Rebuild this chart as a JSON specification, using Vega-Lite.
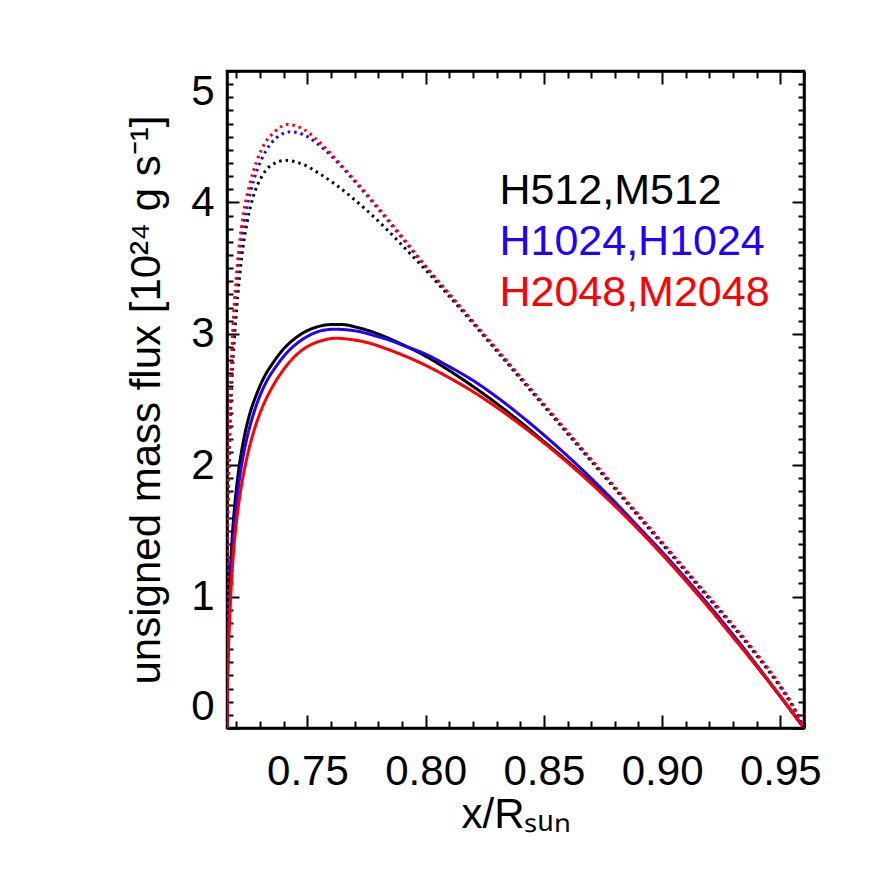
{
  "$schema": "https://vega.github.io/schema/vega-lite/v6.json",
  "width": 577,
  "height": 657,
  "autosize": {"type": "none"},
  "padding": {"left": 227, "top": 71, "right": 68, "bottom": 144},
  "background": "white",
  "config": {
    "view": {"stroke": "black", "strokeWidth": 2.5},
    "font": "Liberation Sans",
    "axis": {
      "grid": false,
      "domainColor": "black",
      "domainWidth": 2.5,
      "tickColor": "black",
      "tickWidth": 2,
      "labelFont": "Liberation Sans",
      "labelFontSize": 42,
      "labelColor": "black",
      "titleFont": "Liberation Sans",
      "titleFontSize": 42,
      "titleFontWeight": "normal",
      "titleColor": "black"
    }
  },
  "datasets": {
    "curves": [
      {"r": "H512,M512", "k": "solid", "x": 0.716, "y": 0},
      {"r": "H512,M512", "k": "solid", "x": 0.7162, "y": 0.35},
      {"r": "H512,M512", "k": "solid", "x": 0.7166, "y": 0.72},
      {"r": "H512,M512", "k": "solid", "x": 0.7172, "y": 1.08},
      {"r": "H512,M512", "k": "solid", "x": 0.7181, "y": 1.42},
      {"r": "H512,M512", "k": "solid", "x": 0.7193, "y": 1.7},
      {"r": "H512,M512", "k": "solid", "x": 0.7207, "y": 1.93},
      {"r": "H512,M512", "k": "solid", "x": 0.7228, "y": 2.17},
      {"r": "H512,M512", "k": "solid", "x": 0.7253, "y": 2.37},
      {"r": "H512,M512", "k": "solid", "x": 0.7283, "y": 2.53},
      {"r": "H512,M512", "k": "solid", "x": 0.7317, "y": 2.67},
      {"r": "H512,M512", "k": "solid", "x": 0.7355, "y": 2.78},
      {"r": "H512,M512", "k": "solid", "x": 0.7397, "y": 2.88},
      {"r": "H512,M512", "k": "solid", "x": 0.7444, "y": 2.96},
      {"r": "H512,M512", "k": "solid", "x": 0.7495, "y": 3.02},
      {"r": "H512,M512", "k": "solid", "x": 0.7546, "y": 3.055},
      {"r": "H512,M512", "k": "solid", "x": 0.7597, "y": 3.07},
      {"r": "H512,M512", "k": "solid", "x": 0.7648, "y": 3.07},
      {"r": "H512,M512", "k": "solid", "x": 0.7707, "y": 3.05},
      {"r": "H512,M512", "k": "solid", "x": 0.7766, "y": 3.02},
      {"r": "H512,M512", "k": "solid", "x": 0.7825, "y": 2.98},
      {"r": "H512,M512", "k": "solid", "x": 0.79, "y": 2.92},
      {"r": "H512,M512", "k": "solid", "x": 0.8, "y": 2.83},
      {"r": "H512,M512", "k": "solid", "x": 0.81, "y": 2.72},
      {"r": "H512,M512", "k": "solid", "x": 0.82, "y": 2.6},
      {"r": "H512,M512", "k": "solid", "x": 0.83, "y": 2.47},
      {"r": "H512,M512", "k": "solid", "x": 0.84, "y": 2.33},
      {"r": "H512,M512", "k": "solid", "x": 0.85, "y": 2.18},
      {"r": "H512,M512", "k": "solid", "x": 0.86, "y": 2.03},
      {"r": "H512,M512", "k": "solid", "x": 0.87, "y": 1.87},
      {"r": "H512,M512", "k": "solid", "x": 0.88, "y": 1.7},
      {"r": "H512,M512", "k": "solid", "x": 0.89, "y": 1.52},
      {"r": "H512,M512", "k": "solid", "x": 0.9, "y": 1.33},
      {"r": "H512,M512", "k": "solid", "x": 0.91, "y": 1.13},
      {"r": "H512,M512", "k": "solid", "x": 0.92, "y": 0.92},
      {"r": "H512,M512", "k": "solid", "x": 0.93, "y": 0.7},
      {"r": "H512,M512", "k": "solid", "x": 0.94, "y": 0.47},
      {"r": "H512,M512", "k": "solid", "x": 0.95, "y": 0.24},
      {"r": "H512,M512", "k": "solid", "x": 0.96, "y": 0},

      {"r": "H1024,H1024", "k": "solid", "x": 0.716, "y": 0},
      {"r": "H1024,H1024", "k": "solid", "x": 0.7162, "y": 0.33},
      {"r": "H1024,H1024", "k": "solid", "x": 0.7167, "y": 0.7},
      {"r": "H1024,H1024", "k": "solid", "x": 0.7174, "y": 1.05},
      {"r": "H1024,H1024", "k": "solid", "x": 0.7184, "y": 1.38},
      {"r": "H1024,H1024", "k": "solid", "x": 0.7197, "y": 1.66},
      {"r": "H1024,H1024", "k": "solid", "x": 0.7213, "y": 1.9},
      {"r": "H1024,H1024", "k": "solid", "x": 0.7235, "y": 2.13},
      {"r": "H1024,H1024", "k": "solid", "x": 0.7262, "y": 2.33},
      {"r": "H1024,H1024", "k": "solid", "x": 0.7293, "y": 2.5},
      {"r": "H1024,H1024", "k": "solid", "x": 0.7328, "y": 2.64},
      {"r": "H1024,H1024", "k": "solid", "x": 0.7367, "y": 2.75},
      {"r": "H1024,H1024", "k": "solid", "x": 0.741, "y": 2.85},
      {"r": "H1024,H1024", "k": "solid", "x": 0.7458, "y": 2.93},
      {"r": "H1024,H1024", "k": "solid", "x": 0.751, "y": 2.99},
      {"r": "H1024,H1024", "k": "solid", "x": 0.7562, "y": 3.025},
      {"r": "H1024,H1024", "k": "solid", "x": 0.7615, "y": 3.035},
      {"r": "H1024,H1024", "k": "solid", "x": 0.7668, "y": 3.03},
      {"r": "H1024,H1024", "k": "solid", "x": 0.7725, "y": 3.015},
      {"r": "H1024,H1024", "k": "solid", "x": 0.7785, "y": 2.985},
      {"r": "H1024,H1024", "k": "solid", "x": 0.785, "y": 2.95},
      {"r": "H1024,H1024", "k": "solid", "x": 0.79, "y": 2.915},
      {"r": "H1024,H1024", "k": "solid", "x": 0.8, "y": 2.845},
      {"r": "H1024,H1024", "k": "solid", "x": 0.81, "y": 2.75},
      {"r": "H1024,H1024", "k": "solid", "x": 0.82, "y": 2.645},
      {"r": "H1024,H1024", "k": "solid", "x": 0.83, "y": 2.52},
      {"r": "H1024,H1024", "k": "solid", "x": 0.84, "y": 2.38},
      {"r": "H1024,H1024", "k": "solid", "x": 0.85, "y": 2.23},
      {"r": "H1024,H1024", "k": "solid", "x": 0.86, "y": 2.07},
      {"r": "H1024,H1024", "k": "solid", "x": 0.87, "y": 1.9},
      {"r": "H1024,H1024", "k": "solid", "x": 0.88, "y": 1.72},
      {"r": "H1024,H1024", "k": "solid", "x": 0.89, "y": 1.53},
      {"r": "H1024,H1024", "k": "solid", "x": 0.9, "y": 1.34},
      {"r": "H1024,H1024", "k": "solid", "x": 0.91, "y": 1.14},
      {"r": "H1024,H1024", "k": "solid", "x": 0.92, "y": 0.93},
      {"r": "H1024,H1024", "k": "solid", "x": 0.93, "y": 0.71},
      {"r": "H1024,H1024", "k": "solid", "x": 0.94, "y": 0.48},
      {"r": "H1024,H1024", "k": "solid", "x": 0.95, "y": 0.24},
      {"r": "H1024,H1024", "k": "solid", "x": 0.96, "y": 0},

      {"r": "H2048,M2048", "k": "solid", "x": 0.716, "y": 0},
      {"r": "H2048,M2048", "k": "solid", "x": 0.7162, "y": 0.3},
      {"r": "H2048,M2048", "k": "solid", "x": 0.7167, "y": 0.64},
      {"r": "H2048,M2048", "k": "solid", "x": 0.7175, "y": 0.98},
      {"r": "H2048,M2048", "k": "solid", "x": 0.7186, "y": 1.3},
      {"r": "H2048,M2048", "k": "solid", "x": 0.72, "y": 1.57},
      {"r": "H2048,M2048", "k": "solid", "x": 0.7218, "y": 1.81},
      {"r": "H2048,M2048", "k": "solid", "x": 0.7242, "y": 2.04},
      {"r": "H2048,M2048", "k": "solid", "x": 0.7272, "y": 2.25},
      {"r": "H2048,M2048", "k": "solid", "x": 0.7307, "y": 2.43},
      {"r": "H2048,M2048", "k": "solid", "x": 0.7347, "y": 2.58},
      {"r": "H2048,M2048", "k": "solid", "x": 0.7392, "y": 2.71},
      {"r": "H2048,M2048", "k": "solid", "x": 0.7442, "y": 2.82},
      {"r": "H2048,M2048", "k": "solid", "x": 0.7497, "y": 2.9},
      {"r": "H2048,M2048", "k": "solid", "x": 0.7555, "y": 2.945},
      {"r": "H2048,M2048", "k": "solid", "x": 0.762, "y": 2.966},
      {"r": "H2048,M2048", "k": "solid", "x": 0.769, "y": 2.955},
      {"r": "H2048,M2048", "k": "solid", "x": 0.776, "y": 2.93},
      {"r": "H2048,M2048", "k": "solid", "x": 0.7835, "y": 2.885},
      {"r": "H2048,M2048", "k": "solid", "x": 0.79, "y": 2.84},
      {"r": "H2048,M2048", "k": "solid", "x": 0.8, "y": 2.76},
      {"r": "H2048,M2048", "k": "solid", "x": 0.81, "y": 2.665},
      {"r": "H2048,M2048", "k": "solid", "x": 0.82, "y": 2.56},
      {"r": "H2048,M2048", "k": "solid", "x": 0.83, "y": 2.44},
      {"r": "H2048,M2048", "k": "solid", "x": 0.84, "y": 2.31},
      {"r": "H2048,M2048", "k": "solid", "x": 0.85, "y": 2.17},
      {"r": "H2048,M2048", "k": "solid", "x": 0.86, "y": 2.02},
      {"r": "H2048,M2048", "k": "solid", "x": 0.87, "y": 1.86},
      {"r": "H2048,M2048", "k": "solid", "x": 0.88, "y": 1.69},
      {"r": "H2048,M2048", "k": "solid", "x": 0.89, "y": 1.51},
      {"r": "H2048,M2048", "k": "solid", "x": 0.9, "y": 1.32},
      {"r": "H2048,M2048", "k": "solid", "x": 0.91, "y": 1.12},
      {"r": "H2048,M2048", "k": "solid", "x": 0.92, "y": 0.91},
      {"r": "H2048,M2048", "k": "solid", "x": 0.93, "y": 0.69},
      {"r": "H2048,M2048", "k": "solid", "x": 0.94, "y": 0.47},
      {"r": "H2048,M2048", "k": "solid", "x": 0.95, "y": 0.24},
      {"r": "H2048,M2048", "k": "solid", "x": 0.96, "y": 0},

      {"r": "H512,M512", "k": "dotted", "x": 0.716, "y": 0},
      {"r": "H512,M512", "k": "dotted", "x": 0.71605, "y": 0.6},
      {"r": "H512,M512", "k": "dotted", "x": 0.7161, "y": 1.05},
      {"r": "H512,M512", "k": "dotted", "x": 0.7162, "y": 1.45},
      {"r": "H512,M512", "k": "dotted", "x": 0.7167, "y": 1.9},
      {"r": "H512,M512", "k": "dotted", "x": 0.7173, "y": 2.3},
      {"r": "H512,M512", "k": "dotted", "x": 0.7181, "y": 2.65},
      {"r": "H512,M512", "k": "dotted", "x": 0.7192, "y": 2.98},
      {"r": "H512,M512", "k": "dotted", "x": 0.7205, "y": 3.28},
      {"r": "H512,M512", "k": "dotted", "x": 0.7222, "y": 3.58},
      {"r": "H512,M512", "k": "dotted", "x": 0.7245, "y": 3.85},
      {"r": "H512,M512", "k": "dotted", "x": 0.7272, "y": 4.05},
      {"r": "H512,M512", "k": "dotted", "x": 0.7305, "y": 4.19},
      {"r": "H512,M512", "k": "dotted", "x": 0.7345, "y": 4.28},
      {"r": "H512,M512", "k": "dotted", "x": 0.7409, "y": 4.32},
      {"r": "H512,M512", "k": "dotted", "x": 0.748, "y": 4.29},
      {"r": "H512,M512", "k": "dotted", "x": 0.755, "y": 4.22},
      {"r": "H512,M512", "k": "dotted", "x": 0.762, "y": 4.135},
      {"r": "H512,M512", "k": "dotted", "x": 0.769, "y": 4.035},
      {"r": "H512,M512", "k": "dotted", "x": 0.776, "y": 3.925},
      {"r": "H512,M512", "k": "dotted", "x": 0.783, "y": 3.805},
      {"r": "H512,M512", "k": "dotted", "x": 0.79, "y": 3.675},
      {"r": "H512,M512", "k": "dotted", "x": 0.8, "y": 3.485},
      {"r": "H512,M512", "k": "dotted", "x": 0.81, "y": 3.285},
      {"r": "H512,M512", "k": "dotted", "x": 0.82, "y": 3.08},
      {"r": "H512,M512", "k": "dotted", "x": 0.83, "y": 2.87},
      {"r": "H512,M512", "k": "dotted", "x": 0.84, "y": 2.66},
      {"r": "H512,M512", "k": "dotted", "x": 0.85, "y": 2.45},
      {"r": "H512,M512", "k": "dotted", "x": 0.86, "y": 2.24},
      {"r": "H512,M512", "k": "dotted", "x": 0.87, "y": 2.03},
      {"r": "H512,M512", "k": "dotted", "x": 0.88, "y": 1.82},
      {"r": "H512,M512", "k": "dotted", "x": 0.89, "y": 1.61},
      {"r": "H512,M512", "k": "dotted", "x": 0.9, "y": 1.4},
      {"r": "H512,M512", "k": "dotted", "x": 0.91, "y": 1.19},
      {"r": "H512,M512", "k": "dotted", "x": 0.92, "y": 0.98},
      {"r": "H512,M512", "k": "dotted", "x": 0.93, "y": 0.77},
      {"r": "H512,M512", "k": "dotted", "x": 0.94, "y": 0.55},
      {"r": "H512,M512", "k": "dotted", "x": 0.95, "y": 0.31},
      {"r": "H512,M512", "k": "dotted", "x": 0.955, "y": 0.17},
      {"r": "H512,M512", "k": "dotted", "x": 0.96, "y": 0},

      {"r": "H1024,H1024", "k": "dotted", "x": 0.716, "y": 0},
      {"r": "H1024,H1024", "k": "dotted", "x": 0.71605, "y": 0.6},
      {"r": "H1024,H1024", "k": "dotted", "x": 0.7161, "y": 1.05},
      {"r": "H1024,H1024", "k": "dotted", "x": 0.7162, "y": 1.5},
      {"r": "H1024,H1024", "k": "dotted", "x": 0.7166, "y": 1.93},
      {"r": "H1024,H1024", "k": "dotted", "x": 0.7171, "y": 2.32},
      {"r": "H1024,H1024", "k": "dotted", "x": 0.7178, "y": 2.7},
      {"r": "H1024,H1024", "k": "dotted", "x": 0.7187, "y": 3.04},
      {"r": "H1024,H1024", "k": "dotted", "x": 0.7198, "y": 3.33},
      {"r": "H1024,H1024", "k": "dotted", "x": 0.7213, "y": 3.6},
      {"r": "H1024,H1024", "k": "dotted", "x": 0.7233, "y": 3.86},
      {"r": "H1024,H1024", "k": "dotted", "x": 0.7258, "y": 4.07},
      {"r": "H1024,H1024", "k": "dotted", "x": 0.7288, "y": 4.25},
      {"r": "H1024,H1024", "k": "dotted", "x": 0.7324, "y": 4.39},
      {"r": "H1024,H1024", "k": "dotted", "x": 0.7368, "y": 4.49},
      {"r": "H1024,H1024", "k": "dotted", "x": 0.743, "y": 4.537},
      {"r": "H1024,H1024", "k": "dotted", "x": 0.749, "y": 4.51},
      {"r": "H1024,H1024", "k": "dotted", "x": 0.756, "y": 4.42},
      {"r": "H1024,H1024", "k": "dotted", "x": 0.763, "y": 4.3},
      {"r": "H1024,H1024", "k": "dotted", "x": 0.7695, "y": 4.17},
      {"r": "H1024,H1024", "k": "dotted", "x": 0.78, "y": 3.95},
      {"r": "H1024,H1024", "k": "dotted", "x": 0.79, "y": 3.73},
      {"r": "H1024,H1024", "k": "dotted", "x": 0.8, "y": 3.51},
      {"r": "H1024,H1024", "k": "dotted", "x": 0.81, "y": 3.3},
      {"r": "H1024,H1024", "k": "dotted", "x": 0.82, "y": 3.09},
      {"r": "H1024,H1024", "k": "dotted", "x": 0.83, "y": 2.88},
      {"r": "H1024,H1024", "k": "dotted", "x": 0.84, "y": 2.67},
      {"r": "H1024,H1024", "k": "dotted", "x": 0.85, "y": 2.46},
      {"r": "H1024,H1024", "k": "dotted", "x": 0.86, "y": 2.25},
      {"r": "H1024,H1024", "k": "dotted", "x": 0.87, "y": 2.04},
      {"r": "H1024,H1024", "k": "dotted", "x": 0.88, "y": 1.83},
      {"r": "H1024,H1024", "k": "dotted", "x": 0.89, "y": 1.62},
      {"r": "H1024,H1024", "k": "dotted", "x": 0.9, "y": 1.41},
      {"r": "H1024,H1024", "k": "dotted", "x": 0.91, "y": 1.2},
      {"r": "H1024,H1024", "k": "dotted", "x": 0.92, "y": 0.99},
      {"r": "H1024,H1024", "k": "dotted", "x": 0.93, "y": 0.78},
      {"r": "H1024,H1024", "k": "dotted", "x": 0.94, "y": 0.56},
      {"r": "H1024,H1024", "k": "dotted", "x": 0.95, "y": 0.32},
      {"r": "H1024,H1024", "k": "dotted", "x": 0.955, "y": 0.18},
      {"r": "H1024,H1024", "k": "dotted", "x": 0.96, "y": 0},

      {"r": "H2048,M2048", "k": "dotted", "x": 0.716, "y": 0},
      {"r": "H2048,M2048", "k": "dotted", "x": 0.71605, "y": 0.6},
      {"r": "H2048,M2048", "k": "dotted", "x": 0.7161, "y": 1.05},
      {"r": "H2048,M2048", "k": "dotted", "x": 0.7162, "y": 1.5},
      {"r": "H2048,M2048", "k": "dotted", "x": 0.7166, "y": 1.95},
      {"r": "H2048,M2048", "k": "dotted", "x": 0.7171, "y": 2.35},
      {"r": "H2048,M2048", "k": "dotted", "x": 0.7178, "y": 2.75},
      {"r": "H2048,M2048", "k": "dotted", "x": 0.7186, "y": 3.08},
      {"r": "H2048,M2048", "k": "dotted", "x": 0.7197, "y": 3.38},
      {"r": "H2048,M2048", "k": "dotted", "x": 0.7211, "y": 3.66},
      {"r": "H2048,M2048", "k": "dotted", "x": 0.723, "y": 3.92},
      {"r": "H2048,M2048", "k": "dotted", "x": 0.7255, "y": 4.13},
      {"r": "H2048,M2048", "k": "dotted", "x": 0.7285, "y": 4.31},
      {"r": "H2048,M2048", "k": "dotted", "x": 0.732, "y": 4.45},
      {"r": "H2048,M2048", "k": "dotted", "x": 0.736, "y": 4.535},
      {"r": "H2048,M2048", "k": "dotted", "x": 0.7415, "y": 4.593},
      {"r": "H2048,M2048", "k": "dotted", "x": 0.748, "y": 4.56},
      {"r": "H2048,M2048", "k": "dotted", "x": 0.755, "y": 4.46},
      {"r": "H2048,M2048", "k": "dotted", "x": 0.762, "y": 4.33},
      {"r": "H2048,M2048", "k": "dotted", "x": 0.769, "y": 4.19},
      {"r": "H2048,M2048", "k": "dotted", "x": 0.78, "y": 3.96},
      {"r": "H2048,M2048", "k": "dotted", "x": 0.79, "y": 3.74},
      {"r": "H2048,M2048", "k": "dotted", "x": 0.8, "y": 3.515},
      {"r": "H2048,M2048", "k": "dotted", "x": 0.81, "y": 3.305},
      {"r": "H2048,M2048", "k": "dotted", "x": 0.82, "y": 3.095},
      {"r": "H2048,M2048", "k": "dotted", "x": 0.83, "y": 2.885},
      {"r": "H2048,M2048", "k": "dotted", "x": 0.84, "y": 2.675},
      {"r": "H2048,M2048", "k": "dotted", "x": 0.85, "y": 2.465},
      {"r": "H2048,M2048", "k": "dotted", "x": 0.86, "y": 2.255},
      {"r": "H2048,M2048", "k": "dotted", "x": 0.87, "y": 2.045},
      {"r": "H2048,M2048", "k": "dotted", "x": 0.88, "y": 1.835},
      {"r": "H2048,M2048", "k": "dotted", "x": 0.89, "y": 1.625},
      {"r": "H2048,M2048", "k": "dotted", "x": 0.9, "y": 1.415},
      {"r": "H2048,M2048", "k": "dotted", "x": 0.91, "y": 1.205},
      {"r": "H2048,M2048", "k": "dotted", "x": 0.92, "y": 0.995},
      {"r": "H2048,M2048", "k": "dotted", "x": 0.93, "y": 0.785},
      {"r": "H2048,M2048", "k": "dotted", "x": 0.94, "y": 0.565},
      {"r": "H2048,M2048", "k": "dotted", "x": 0.95, "y": 0.325},
      {"r": "H2048,M2048", "k": "dotted", "x": 0.955, "y": 0.18},
      {"r": "H2048,M2048", "k": "dotted", "x": 0.96, "y": 0}
    ],
    "labels": [
      {"r": "H512,M512", "x": 0.8312, "y": 3.99},
      {"r": "H1024,H1024", "x": 0.8312, "y": 3.6},
      {"r": "H2048,M2048", "x": 0.8312, "y": 3.21}
    ]
  },
  "resolve": {"axis": {"x": "independent", "y": "independent"}},
  "layer": [
    {
      "data": {"name": "curves"},
      "mark": {"type": "line", "strokeWidth": 3, "interpolate": "monotone", "clip": true},
      "encoding": {
        "x": {"field": "x", "type": "quantitative",
              "scale": {"domain": [0.716, 0.96], "nice": false, "zero": false},
              "axis": {"orient": "bottom", "values": [0.75, 0.8, 0.85, 0.9, 0.95], "format": ".2f",
                       "tickSize": -13, "labelPadding": 36, "title": "x/Rₛᵤₙ", "titlePadding": 2}},
        "y": {"field": "y", "type": "quantitative",
              "scale": {"domain": [0, 5], "nice": false},
              "axis": {"orient": "left", "values": [0, 1, 2, 3, 4, 5], "format": "d",
                       "tickSize": -12, "labelPadding": 25, "labelFlush": true,
                       "title": "unsigned mass flux [10²⁴ g s⁻¹]", "titlePadding": 22}},
        "color": {"field": "r", "type": "nominal",
                  "scale": {"domain": ["H512,M512", "H1024,H1024", "H2048,M2048"], "range": ["#000000", "#2200ff", "#ff0000"]},
                  "legend": null},
        "strokeDash": {"field": "k", "type": "nominal",
                       "scale": {"domain": ["solid", "dotted"], "range": [[1, 0], [2.5, 4]]},
                       "legend": null},
        "order": {"field": "x", "type": "quantitative"}
      }
    },
    {
      "data": {"name": "labels"},
      "mark": {"type": "text", "align": "left", "baseline": "alphabetic", "fontSize": 43, "font": "Liberation Sans"},
      "encoding": {
        "x": {"field": "x", "type": "quantitative",
              "axis": {"orient": "bottom", "values": [0.72,0.73,0.74,0.76,0.77,0.78,0.79,0.81,0.82,0.83,0.84,0.86,0.87,0.88,0.89,0.91,0.92,0.93,0.94,0.96],
                       "tickSize": -7, "labels": false, "title": null, "domain": false}},
        "y": {"field": "y", "type": "quantitative",
              "axis": {"orient": "left", "values": [0.1,0.2,0.3,0.4,0.5,0.6,0.7,0.8,0.9,1.1,1.2,1.3,1.4,1.5,1.6,1.7,1.8,1.9,2.1,2.2,2.3,2.4,2.5,2.6,2.7,2.8,2.9,3.1,3.2,3.3,3.4,3.5,3.6,3.7,3.8,3.9,4.1,4.2,4.3,4.4,4.5,4.6,4.7,4.8,4.9],
                       "tickSize": -6, "labels": false, "title": null, "domain": false}},
        "text": {"field": "r"},
        "color": {"field": "r", "type": "nominal", "legend": null}
      }
    },
    {
      "data": {"name": "labels"},
      "mark": {"type": "point", "opacity": 0},
      "encoding": {
        "x": {"field": "x", "type": "quantitative",
              "axis": {"orient": "top", "values": [0.75, 0.8, 0.85, 0.9, 0.95],
                       "tickSize": -13, "labels": false, "title": null}},
        "y": {"field": "y", "type": "quantitative",
              "axis": {"orient": "right", "values": [0, 1, 2, 3, 4, 5],
                       "tickSize": -12, "labels": false, "title": null}}
      }
    },
    {
      "data": {"name": "labels"},
      "mark": {"type": "point", "opacity": 0},
      "encoding": {
        "x": {"field": "x", "type": "quantitative",
              "axis": {"orient": "top", "values": [0.72,0.73,0.74,0.76,0.77,0.78,0.79,0.81,0.82,0.83,0.84,0.86,0.87,0.88,0.89,0.91,0.92,0.93,0.94,0.96],
                       "tickSize": -7, "labels": false, "title": null, "domain": false}},
        "y": {"field": "y", "type": "quantitative",
              "axis": {"orient": "right", "values": [0.1,0.2,0.3,0.4,0.5,0.6,0.7,0.8,0.9,1.1,1.2,1.3,1.4,1.5,1.6,1.7,1.8,1.9,2.1,2.2,2.3,2.4,2.5,2.6,2.7,2.8,2.9,3.1,3.2,3.3,3.4,3.5,3.6,3.7,3.8,3.9,4.1,4.2,4.3,4.4,4.5,4.6,4.7,4.8,4.9],
                       "tickSize": -6, "labels": false, "title": null, "domain": false}}
      }
    }
  ]
}
